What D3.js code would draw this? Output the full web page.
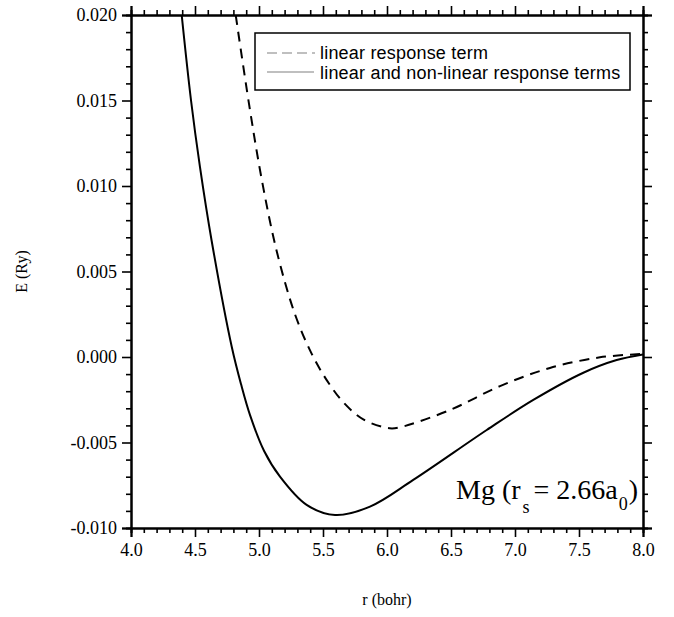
<!DOCTYPE html>
<html>
<head>
<meta charset="utf-8">
<script src="https://cdn.jsdelivr.net/npm/d3@7"></script>
<style>
  html, body { margin: 0; padding: 0; background: #fff; }
  svg { display: block; }
</style>
</head>
<body>
<svg id="chart" width="674" height="617"></svg>
<script>
// Interaction energy of Mg ions vs. separation
const rLinear = [4.818, 4.922, 5.021, 5.138, 5.281, 5.411, 5.529, 5.659, 5.815, 6.02, 6.102, 6.492, 6.883, 7.273, 7.664, 8.0];
const eLinear = [0.0200, 0.0148, 0.0104, 0.0062, 0.0025, 0.0002, -0.00135, -0.00265, -0.00365, -0.00417, -0.00411, -0.00310, -0.00170, -0.00064, -0.00002, 0.00018];

const rFull = [4.396, 4.469, 4.539, 4.630, 4.787, 4.86, 4.93, 5.04, 5.164, 5.372, 5.594, 5.867, 6.205, 6.779, 7.143, 7.534, 7.794, 8.0];
const eFull = [0.0200, 0.0150, 0.0111, 0.0068, 0.0006, -0.0016, -0.0034, -0.0055, -0.0070, -0.00865, -0.00924, -0.00875, -0.00719, -0.00427, -0.00251, -0.00092, -0.00018, 0.00015];

const xMajorTicks = [4.0, 4.5, 5.0, 5.5, 6.0, 6.5, 7.0, 7.5, 8.0];
const yMajorTicks = [-0.010, -0.005, 0.000, 0.005, 0.010, 0.015, 0.020];
const legendLabels = ["linear response term", "linear and non-linear response terms"];

const svg = d3.select("#chart");
const mLeft = 131, mRight = 643, mTop = 15, mBottom = 528;
const serif = "'Liberation Serif', 'DejaVu Serif', serif";

const x = d3.scaleLinear().domain([4.0, 8.0]).range([mLeft, mRight]);
const y = d3.scaleLinear().domain([-0.010, 0.020]).range([mBottom, mTop]);

const xMinor = d3.range(40, 81).map(v => v / 10).filter(v => !xMajorTicks.some(m => Math.abs(m - v) < 1e-9));
const yMinor = d3.range(-10, 21).map(v => v / 1000).filter(v => !yMajorTicks.some(m => Math.abs(m - v) < 1e-9));

function styleAxis(g) {
  g.attr("font-family", serif).attr("font-size", 18);
  g.select(".domain").attr("stroke", "#000").attr("stroke-width", 2);
  g.selectAll(".tick line").attr("stroke", "#000").attr("stroke-width", 1.6);
  g.selectAll(".tick text").attr("font-family", serif).attr("font-size", 18).attr("fill", "#000");
}
const hyphen = f => d => f(d).replace("\u2212", "-");

// minor ticks
svg.append("g").attr("transform", `translate(0,${mBottom})`)
  .call(d3.axisBottom(x).tickValues(xMinor).tickSize(5).tickFormat("")).call(styleAxis);
svg.append("g").attr("transform", `translate(0,${mTop})`)
  .call(d3.axisTop(x).tickValues(xMinor).tickSize(5).tickFormat("")).call(styleAxis);
svg.append("g").attr("transform", `translate(${mLeft},0)`)
  .call(d3.axisLeft(y).tickValues(yMinor).tickSize(5).tickFormat("")).call(styleAxis);
svg.append("g").attr("transform", `translate(${mRight},0)`)
  .call(d3.axisRight(y).tickValues(yMinor).tickSize(5).tickFormat("")).call(styleAxis);

// major ticks
svg.append("g").attr("transform", `translate(0,${mBottom})`)
  .call(d3.axisBottom(x).tickValues(xMajorTicks).tickSize(9).tickPadding(6).tickFormat(d3.format(".1f")))
  .call(styleAxis);
svg.append("g").attr("transform", `translate(0,${mTop})`)
  .call(d3.axisTop(x).tickValues(xMajorTicks).tickSize(9).tickFormat("")).call(styleAxis);
svg.append("g").attr("transform", `translate(${mLeft},0)`)
  .call(d3.axisLeft(y).tickValues(yMajorTicks).tickSize(9).tickPadding(5).tickFormat(hyphen(d3.format(".3f"))))
  .call(styleAxis);
svg.append("g").attr("transform", `translate(${mRight},0)`)
  .call(d3.axisRight(y).tickValues(yMajorTicks).tickSize(9).tickFormat("")).call(styleAxis);

// curves
svg.append("clipPath").attr("id", "plotClip")
  .append("rect").attr("x", mLeft).attr("y", mTop).attr("width", mRight - mLeft).attr("height", mBottom - mTop);

const line = d3.line().x(d => x(d[0])).y(d => y(d[1])).curve(d3.curveCatmullRom.alpha(0.5));
const plot = svg.append("g").attr("clip-path", "url(#plotClip)");

plot.append("path").datum(d3.zip(rLinear, eLinear))
  .attr("d", line).attr("fill", "none").attr("stroke", "#000")
  .attr("stroke-width", 2).attr("stroke-dasharray", "10,7");
plot.append("path").datum(d3.zip(rFull, eFull))
  .attr("d", line).attr("fill", "none").attr("stroke", "#000")
  .attr("stroke-width", 2);

// legend
const lg = svg.append("g");
lg.append("rect").attr("x", 255).attr("y", 33).attr("width", 375).attr("height", 57)
  .attr("fill", "#fff").attr("stroke", "#000").attr("stroke-width", 1.5);
lg.append("line").attr("x1", 267).attr("x2", 315).attr("y1", 53).attr("y2", 53)
  .attr("stroke", "#aaa").attr("stroke-width", 1.5).attr("stroke-dasharray", "10,5");
lg.append("line").attr("x1", 267).attr("x2", 314).attr("y1", 72).attr("y2", 72)
  .attr("stroke", "#aaa").attr("stroke-width", 1.5);
lg.selectAll("text.leg").data(legendLabels).join("text").attr("class", "leg")
  .attr("x", 320).attr("y", (d, i) => 59 + i * 20)
  .attr("font-family", "'Liberation Sans', Arial, sans-serif").attr("font-size", 18)
  .attr("letter-spacing", 0.2)
  .text(d => d);

// annotation
const ann = svg.append("text").attr("x", 456).attr("y", 499)
  .attr("font-family", serif).attr("font-size", 28);
ann.append("tspan").text("Mg (r");
ann.append("tspan").attr("font-size", 18).attr("dx", 2).attr("dy", 14).text("s");
ann.append("tspan").attr("dx", 4).attr("dy", -14).text("= 2.66a");
ann.append("tspan").attr("font-size", 18).attr("dx", 1).attr("dy", 11).text("0");
ann.append("tspan").attr("dx", 1).attr("dy", -11).text(")");

// axis titles
svg.append("text").attr("x", (mLeft + mRight) / 2).attr("y", 605)
  .attr("text-anchor", "middle")
  .attr("font-family", serif).attr("font-size", 16)
  .text("r (bohr)");
svg.append("text").attr("transform", `translate(27,${(mTop + mBottom) / 2}) rotate(-90)`)
  .attr("text-anchor", "middle")
  .attr("font-family", serif).attr("font-size", 16)
  .text("E (Ry)");
</script>
</body>
</html>
